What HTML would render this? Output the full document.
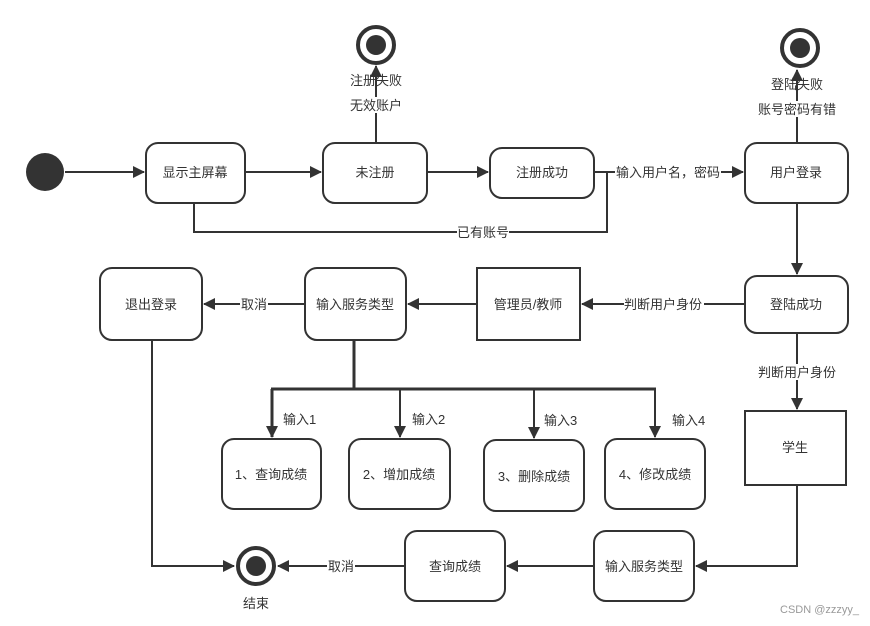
<!DOCTYPE html>
<html><head><meta charset="utf-8"><style>
body{margin:0;background:#fff}
svg{display:block}
text{font-family:"Liberation Sans","Noto Sans CJK SC",sans-serif;font-size:13px;fill:#333}
</style></head><body>
<svg width="870" height="626" viewBox="0 0 870 626" xmlns="http://www.w3.org/2000/svg">
<defs>
<marker id="a" markerWidth="12" markerHeight="12" refX="11" refY="6" orient="auto" markerUnits="userSpaceOnUse">
<path d="M0,0 L12,6 L0,12 Z" fill="#333"/></marker>
</defs>
<g stroke="#333" stroke-width="2" fill="none">
<circle cx="45" cy="172" r="19" fill="#333" stroke="none"/>
<line x1="65" y1="172" x2="144" y2="172" marker-end="url(#a)"/>
<rect x="146" y="143" width="99" height="60" rx="12" fill="#fff"/>
<line x1="245" y1="172" x2="321" y2="172" marker-end="url(#a)"/>
<rect x="323" y="143" width="104" height="60" rx="12" fill="#fff"/>
<line x1="427" y1="172" x2="488" y2="172" marker-end="url(#a)"/>
<rect x="490" y="148" width="104" height="50" rx="12" fill="#fff"/>
<line x1="594" y1="172" x2="743" y2="172" marker-end="url(#a)"/>
<rect x="745" y="143" width="103" height="60" rx="12" fill="#fff"/>
<polyline points="194,203 194,232 607,232 607,172"/>
<line x1="376" y1="143" x2="376" y2="66" marker-end="url(#a)"/>
<line x1="797" y1="143" x2="797" y2="70" marker-end="url(#a)"/>
<circle cx="376" cy="45" r="18" stroke-width="4" fill="#fff"/>
<circle cx="376" cy="45" r="10" fill="#333" stroke="none"/>
<circle cx="800" cy="48" r="18" stroke-width="4" fill="#fff"/>
<circle cx="800" cy="48" r="10" fill="#333" stroke="none"/>
<line x1="797" y1="203" x2="797" y2="274" marker-end="url(#a)"/>
<rect x="745" y="276" width="103" height="57" rx="12" fill="#fff"/>
<line x1="745" y1="304" x2="582" y2="304" marker-end="url(#a)"/>
<rect x="477" y="268" width="103" height="72" fill="#fff"/>
<line x1="477" y1="304" x2="408" y2="304" marker-end="url(#a)"/>
<rect x="305" y="268" width="101" height="72" rx="12" fill="#fff"/>
<line x1="305" y1="304" x2="204" y2="304" marker-end="url(#a)"/>
<rect x="100" y="268" width="102" height="72" rx="12" fill="#fff"/>
<line x1="354" y1="340" x2="354" y2="389" stroke-width="3"/>
<line x1="271" y1="389" x2="656" y2="389" stroke-width="3"/>
<line x1="272" y1="389" x2="272" y2="437" stroke-width="3" marker-end="url(#a)"/>
<line x1="400" y1="389" x2="400" y2="437" marker-end="url(#a)"/>
<line x1="534" y1="389" x2="534" y2="438" marker-end="url(#a)"/>
<line x1="655" y1="389" x2="655" y2="437" marker-end="url(#a)"/>
<rect x="222" y="439" width="99" height="70" rx="12" fill="#fff"/>
<rect x="349" y="439" width="101" height="70" rx="12" fill="#fff"/>
<rect x="484" y="440" width="100" height="71" rx="12" fill="#fff"/>
<rect x="605" y="439" width="100" height="70" rx="12" fill="#fff"/>
<line x1="797" y1="333" x2="797" y2="409" marker-end="url(#a)"/>
<rect x="745" y="411" width="101" height="74" fill="#fff"/>
<polyline points="797,485 797,566 696,566" marker-end="url(#a)"/>
<rect x="594" y="531" width="100" height="70" rx="12" fill="#fff"/>
<line x1="594" y1="566" x2="507" y2="566" marker-end="url(#a)"/>
<rect x="405" y="531" width="100" height="70" rx="12" fill="#fff"/>
<line x1="405" y1="566" x2="278" y2="566" marker-end="url(#a)"/>
<polyline points="152,340 152,566 234,566" marker-end="url(#a)"/>
<circle cx="256" cy="566" r="18" stroke-width="4" fill="#fff"/>
<circle cx="256" cy="566" r="10" fill="#333" stroke="none"/>
</g>
<g text-anchor="middle">
<text x="195" y="177">显示主屏幕</text>
<text x="375" y="177">未注册</text>
<text x="542" y="177">注册成功</text>
<text x="796" y="177">用户登录</text>
<text x="796" y="309">登陆成功</text>
<text x="528" y="309">管理员/教师</text>
<text x="355" y="309">输入服务类型</text>
<text x="151" y="309">退出登录</text>
<text x="271" y="479">1、查询成绩</text>
<text x="399" y="479">2、增加成绩</text>
<text x="534" y="481">3、删除成绩</text>
<text x="655" y="479">4、修改成绩</text>
<text x="795" y="452">学生</text>
<text x="644" y="571">输入服务类型</text>
<text x="455" y="571">查询成绩</text>
<text x="256" y="608">结束</text>
</g>
<g>
<text x="376" y="85" text-anchor="middle">注册失败</text>
<rect x="345" y="97" width="62" height="16" fill="#fff"/>
<text x="376" y="110" text-anchor="middle">无效账户</text>
<text x="797" y="89" text-anchor="middle">登陆失败</text>
<rect x="755" y="101" width="84" height="16" fill="#fff"/>
<text x="797" y="114" text-anchor="middle">账号密码有错</text>
<rect x="615" y="164" width="106" height="16" fill="#fff"/>
<text x="668" y="177" text-anchor="middle">输入用户名，密码</text>
<rect x="457" y="224" width="52" height="16" fill="#fff"/>
<text x="483" y="237" text-anchor="middle">已有账号</text>
<rect x="624" y="296" width="80" height="16" fill="#fff"/>
<text x="663" y="309" text-anchor="middle">判断用户身份</text>
<rect x="240" y="296" width="28" height="16" fill="#fff"/>
<text x="254" y="309" text-anchor="middle">取消</text>
<rect x="757" y="364" width="80" height="16" fill="#fff"/>
<text x="797" y="377" text-anchor="middle">判断用户身份</text>
<rect x="327" y="558" width="28" height="16" fill="#fff"/>
<text x="341" y="571" text-anchor="middle">取消</text>
<text x="283" y="424">输入1</text>
<text x="412" y="424">输入2</text>
<text x="544" y="425">输入3</text>
<text x="672" y="425">输入4</text>
<text x="780" y="613" style="font-size:11px;fill:#999">CSDN @zzzyy_</text>
</g>
</svg>
</body></html>
